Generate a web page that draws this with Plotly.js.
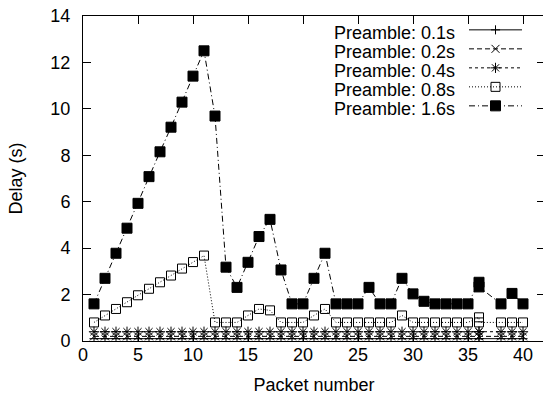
<!DOCTYPE html>
<html>
<head>
<meta charset="utf-8">
<script src="https://cdn.plot.ly/plotly-3.0.1.min.js"></script>
<style>
  html, body { margin: 0; padding: 0; overflow: hidden; background: #fff; }
  #chart { width: 546px; height: 396px; }
</style>
</head>
<body>
<div id="chart"></div>
<script>
// Packet index (packet 36 was logged twice, packet 37 never arrived)
const packets = [1, 2, 3, 4, 5, 6, 7, 8, 9, 10,
                 11, 12, 13, 14, 15, 16, 17, 18, 19, 20,
                 21, 22, 23, 24, 25, 26, 27, 28, 29, 30,
                 31, 32, 33, 34, 35, 36, 36, 38, 39, 40];

// Delay in seconds, one list per preamble length
const delay01 = [0.1, 0.1, 0.1, 0.1, 0.1, 0.1, 0.1, 0.1, 0.1, 0.1,
                 0.1, 0.1, 0.1, 0.1, 0.1, 0.1, 0.1, 0.1, 0.1, 0.1,
                 0.1, 0.1, 0.1, 0.1, 0.1, 0.1, 0.1, 0.1, 0.1, 0.1,
                 0.1, 0.1, 0.1, 0.1, 0.1, 0.1, 0.1, 0.1, 0.1, 0.1];
const delay02 = [0.2, 0.2, 0.2, 0.2, 0.2, 0.2, 0.2, 0.2, 0.2, 0.2,
                 0.2, 0.2, 0.2, 0.2, 0.2, 0.2, 0.2, 0.2, 0.2, 0.2,
                 0.2, 0.2, 0.2, 0.2, 0.2, 0.2, 0.2, 0.2, 0.2, 0.2,
                 0.2, 0.2, 0.2, 0.2, 0.2, 0.2, 0.2, 0.2, 0.2, 0.2];
const delay04 = [0.4, 0.4, 0.4, 0.4, 0.4, 0.4, 0.4, 0.4, 0.4, 0.4,
                 0.4, 0.4, 0.4, 0.4, 0.4, 0.4, 0.4, 0.4, 0.4, 0.4,
                 0.4, 0.4, 0.4, 0.4, 0.4, 0.4, 0.4, 0.4, 0.4, 0.4,
                 0.4, 0.4, 0.4, 0.4, 0.4, 0.4, 0.4, 0.4, 0.4, 0.4];
const delay08 = [0.8, 1.1, 1.38, 1.67, 1.97, 2.25, 2.53, 2.82, 3.12, 3.4,
                 3.68, 0.8, 0.8, 0.8, 1.1, 1.38, 1.32, 0.8, 0.8, 0.8,
                 1.1, 1.38, 0.8, 0.8, 0.8, 0.8, 0.8, 0.8, 1.1, 0.8,
                 0.8, 0.8, 0.8, 0.8, 0.8, 1.02, 0.8, 0.8, 0.8, 0.8];
const delay16 = [1.6, 2.7, 3.78, 4.86, 5.93, 7.08, 8.15, 9.21, 10.29, 11.41,
                 12.5, 9.69, 3.18, 2.31, 3.39, 4.5, 5.24, 3.06, 1.6, 1.6,
                 2.7, 3.78, 1.6, 1.6, 1.6, 2.31, 1.6, 1.6, 2.7, 2.03,
                 1.71, 1.6, 1.6, 1.6, 1.6, 2.53, 2.33, 1.6, 2.05, 1.6];

const seriesLabels = ['Preamble: 0.1s', 'Preamble: 0.2s', 'Preamble: 0.4s',
                      'Preamble: 0.8s', 'Preamble: 1.6s'];
const xTickValues = [0, 5, 10, 15, 20, 25, 30, 35, 40];
const yTickValues = [0, 2, 4, 6, 8, 10, 12, 14];
const xLabel = 'Packet number';
const yLabel = 'Delay (s)';

const FONT = '"Liberation Sans", Arial, Helvetica, sans-serif';
const INK = '#000';

function trace(y, dash, symbol, size, open) {
  return {
    x: packets,
    y: y,
    type: 'scatter',
    mode: 'lines+markers',
    name: '',
    hoverinfo: 'x+y',
    line: { color: INK, width: 1, dash: dash },
    marker: {
      symbol: symbol,
      size: size,
      color: open ? 'rgba(0,0,0,0)' : INK,
      line: { color: INK, width: 1 }
    }
  };
}

const data = [
  trace(delay01, 'solid', 'cross-thin', 6.5, true),
  trace(delay02, '5px,3px', 'x-thin', 8, true),
  trace(delay04, '3px,3px', 'asterisk', 8.5, true),
  trace(delay08, '1px,2px', 'square', 9, true),
  trace(delay16, '6px,3px,1px,3px', 'square', 10, false)
];

// Legend labels sit to the left of the legend samples, one row every 19px
const legendRowsY = [0.9468, 0.8883, 0.8298, 0.7713, 0.7128];
const annotations = seriesLabels.map((t, i) => ({
  text: t,
  xref: 'paper', yref: 'paper',
  x: 0.8095, y: legendRowsY[i],
  xanchor: 'right', yanchor: 'middle',
  showarrow: false,
  font: { family: FONT, size: 18, color: INK }
}));

const axisCommon = {
  showgrid: false,
  zeroline: false,
  showline: true,
  linecolor: INK,
  linewidth: 1,
  mirror: 'allticks',
  ticks: 'inside',
  ticklen: 8,
  tickwidth: 1,
  tickcolor: INK,
  tickfont: { family: FONT, size: 18, color: INK }
};

const layout = {
  width: 546,
  height: 396,
  autosize: false,
  margin: { l: 83, r: 1, t: 16, b: 55 },
  paper_bgcolor: '#fff',
  plot_bgcolor: '#fff',
  font: { family: FONT, size: 18, color: INK },
  showlegend: true,
  legend: {
    x: 0.8247, y: 1.002,
    xanchor: 'left', yanchor: 'top',
    bgcolor: 'rgba(0,0,0,0)',
    borderwidth: 0,
    itemwidth: 53,
    tracegroupgap: 0,
    font: { family: FONT, size: 11, color: INK }
  },
  xaxis: Object.assign({}, axisCommon, {
    range: [0, 42],
    tickvals: xTickValues,
    ticklabelstandoff: -3,
    title: { text: xLabel, standoff: 14, font: { family: FONT, size: 18, color: INK } }
  }),
  yaxis: Object.assign({}, axisCommon, {
    range: [0, 14],
    tickvals: yTickValues,
    ticklabelstandoff: 8,
    title: { text: yLabel, standoff: 23, font: { family: FONT, size: 18, color: INK } }
  }),
  annotations: annotations
};

Plotly.newPlot('chart', data, layout, { displayModeBar: false, staticPlot: true });
</script>
</body>
</html>
